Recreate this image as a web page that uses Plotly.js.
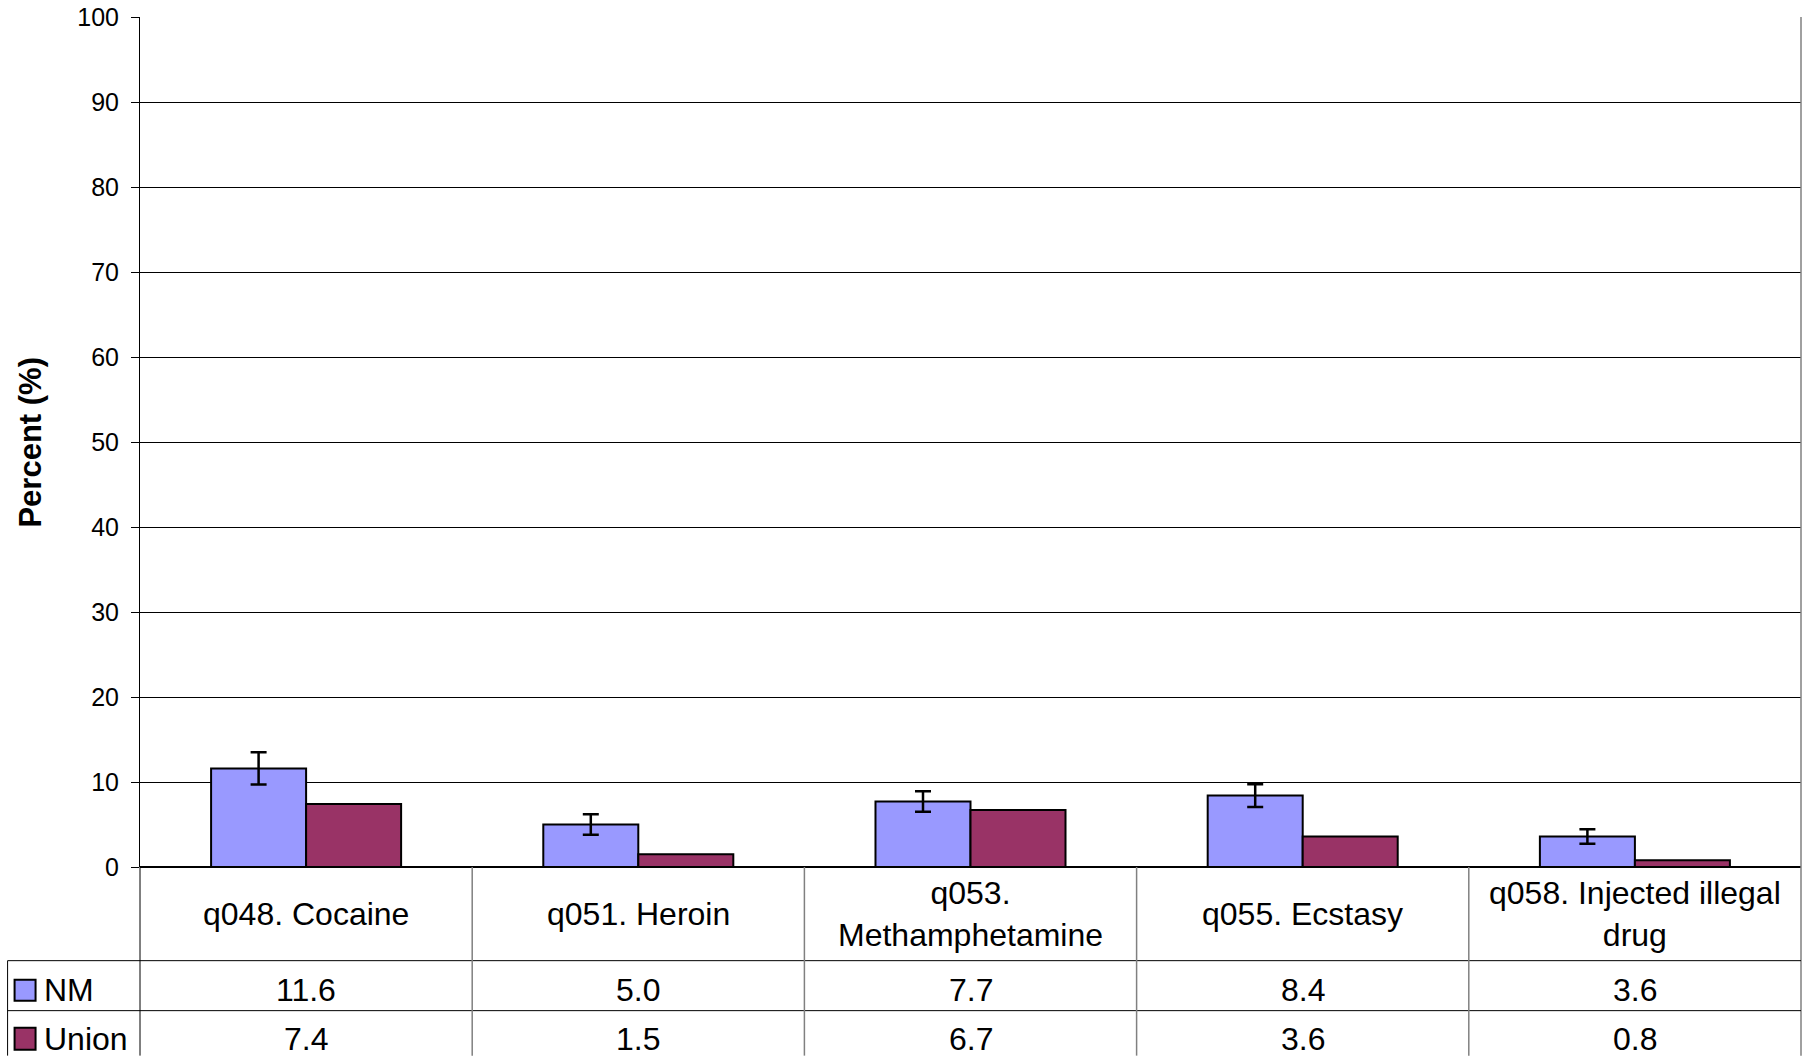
<!DOCTYPE html>
<html>
<head>
<meta charset="utf-8">
<script src="https://cdn.plot.ly/plotly-3.0.1.min.js"></script>
<style>html,body{margin:0;padding:0;background:#fff;}#chart{width:1809px;height:1056px;}</style>
</head>
<body>
<div id="chart"></div>
<script>
// ---- data ----
const categories = ["q048. Cocaine", "q051. Heroin", "q053.<br>Methamphetamine", "q055. Ecstasy", "q058. Injected illegal<br>drug"];
const seriesNames = ["NM", "Union"];
const nmValues = [11.6, 5.0, 7.7, 8.4, 3.6];
const nmErrors = [1.9, 1.2, 1.2, 1.35, 0.85];
const unionValues = [7.4, 1.5, 6.7, 3.6, 0.8];
const yTickValues = [0, 10, 20, 30, 40, 50, 60, 70, 80, 90, 100];

// ---- layout geometry (pixels) ----
const W = 1809, H = 1056;
const L = 139.5, R = 1801.5, T = 17, B = 867.3;
const PW = R - L, PH = B - T;
const px = x => (x - L) / PW;
const py = y => (B - y) / PH;

const colors = ["#9999FF", "#993366"];
const FONT = '"Liberation Sans", Arial, sans-serif';

const xIdx = categories.map((c, i) => i);

const traces = [
  {
    type: "bar", name: seriesNames[0], x: xIdx, y: nmValues,
    marker: {color: colors[0], line: {color: "#000", width: 2}},
    error_y: {type: "data", array: nmErrors, visible: true, color: "#000", thickness: 2.5, width: 8},
    hoverinfo: "none"
  },
  {
    type: "bar", name: seriesNames[1], x: xIdx, y: unionValues,
    marker: {color: colors[1], line: {color: "#000", width: 2}},
    hoverinfo: "none"
  }
];

const shapes = [];
const annotations = [];
const n = categories.length;

// right border
shapes.push({type: "line", xref: "paper", yref: "paper", x0: 1, x1: 1, y0: py(H), y1: 1, line: {color: "#808080", width: 1.5}});
// y-axis line extension through table
shapes.push({type: "line", xref: "paper", yref: "paper", x0: 0, x1: 0, y0: py(H), y1: 0, line: {color: "#000", width: 1}});
// table horizontal lines
[961, 1011].forEach(y => shapes.push({type: "line", xref: "paper", yref: "paper", x0: px(7), x1: 1, y0: py(y), y1: py(y), line: {color: "#000", width: 1}}));
// legend column left border
shapes.push({type: "line", xref: "paper", yref: "paper", x0: px(7), x1: px(7), y0: py(H), y1: py(961), line: {color: "#000", width: 1}});
// category separators
for (let k = 1; k < n; k++) {
  shapes.push({type: "line", xref: "paper", yref: "paper", x0: k / n, x1: k / n, y0: py(H), y1: 0, line: {color: "#808080", width: 1.5}});
}
// legend swatches
const swatchY = [[980, 1001], [1028, 1050]];
swatchY.forEach((s, i) => shapes.push({type: "rect", xref: "paper", yref: "paper", x0: px(14), x1: px(35), y0: py(s[1]), y1: py(s[0]), fillcolor: colors[i], line: {color: "#000", width: 2}}));

// header labels
categories.forEach((c, i) => annotations.push({
  xref: "x", yref: "paper", x: i, y: py(914), text: c, showarrow: false,
  xanchor: "center", yanchor: "middle", align: "center",
  font: {family: FONT, size: 32, color: "#000"}
}));
// value rows
const rowY = [990, 1039];
[nmValues, unionValues].forEach((vals, r) => {
  vals.forEach((v, i) => annotations.push({
    xref: "x", yref: "paper", x: i, y: py(rowY[r]), text: v.toFixed(1), showarrow: false,
    xanchor: "center", yanchor: "middle",
    font: {family: FONT, size: 32, color: "#000"}
  }));
  annotations.push({
    xref: "paper", yref: "paper", x: px(41), y: py(rowY[r]), text: seriesNames[r], showarrow: false,
    xanchor: "left", yanchor: "middle",
    font: {family: FONT, size: 32, color: "#000"}
  });
});
// y-axis title
annotations.push({
  xref: "paper", yref: "paper", x: px(29), y: 0.5, text: "<b>Percent (%)</b>", showarrow: false,
  textangle: -90, xanchor: "center", yanchor: "middle",
  font: {family: FONT, size: 31, color: "#000"}
});

const layout = {
  width: W, height: H,
  margin: {l: L, r: W - R, t: T, b: H - B, pad: 0},
  paper_bgcolor: "#fff", plot_bgcolor: "#fff",
  showlegend: false,
  barmode: "group", bargap: 0.428, bargroupgap: 0,
  xaxis: {range: [-0.5, n - 0.5], showticklabels: false, showgrid: false, zeroline: false, showline: false, ticks: "", fixedrange: true},
  yaxis: {
    range: [0, 100], tickvals: yTickValues, ticktext: yTickValues.map(String),
    showgrid: true, gridcolor: "#000", gridwidth: 1,
    zeroline: true, zerolinecolor: "#000", zerolinewidth: 1.5,
    showline: true, linecolor: "#000", linewidth: 1,
    ticks: "outside", ticklen: 8, tickcolor: "#000", tickwidth: 1,
    ticklabelstandoff: 7,
    tickfont: {family: FONT, size: 25, color: "#000"},
    fixedrange: true
  },
  shapes: shapes,
  annotations: annotations,
  font: {family: FONT}
};

Plotly.newPlot("chart", traces, layout, {displayModeBar: false, staticPlot: true});
</script>
</body>
</html>
